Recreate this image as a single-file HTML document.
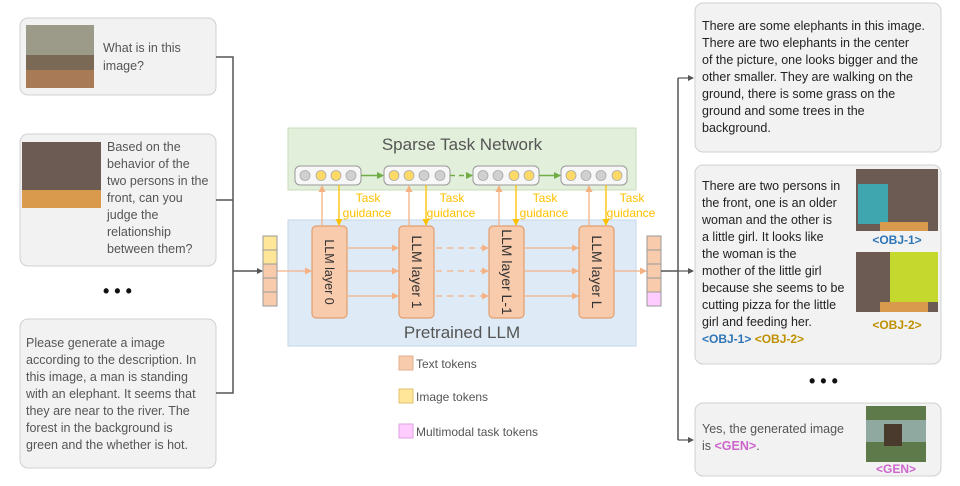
<!DOCTYPE html>
<html><head><meta charset="utf-8"><style>
html,body{margin:0;padding:0;background:#fff;width:960px;height:486px;overflow:hidden}
svg{display:block;font-family:"Liberation Sans",sans-serif}
</style></head><body>
<svg width="960" height="486" viewBox="0 0 960 486" xmlns="http://www.w3.org/2000/svg">
<defs>
<marker id="ag" markerWidth="6" markerHeight="6" refX="5" refY="3" orient="auto" markerUnits="userSpaceOnUse"><path d="M0,0 L6,3 L0,6z" fill="#555"/></marker>
<marker id="ao" markerWidth="7" markerHeight="7" refX="6" refY="3.5" orient="auto" markerUnits="userSpaceOnUse"><path d="M0,0 L7,3.5 L0,7z" fill="#f4b183"/></marker>
<marker id="ay" markerWidth="7" markerHeight="7" refX="6" refY="3.5" orient="auto" markerUnits="userSpaceOnUse"><path d="M0,0 L7,3.5 L0,7z" fill="#ffc000"/></marker>
<marker id="agr" markerWidth="7" markerHeight="7" refX="6" refY="3.5" orient="auto" markerUnits="userSpaceOnUse"><path d="M0,0 L7,3.5 L0,7z" fill="#70ad47"/></marker>
</defs>

<rect x="20" y="18" width="196" height="77" rx="8" fill="#f2f2f2" stroke="#d0d0d0"/>
<rect x="26" y="25" width="68" height="63" fill="#7a6a55"/>
<rect x="26" y="25" width="68" height="30" fill="#9c9a88"/>
<rect x="26" y="70" width="68" height="18" fill="#a87a55"/>
<text x="103" y="52" font-size="12.5" fill="#555">What is in this</text>
<text x="103" y="70" font-size="12.5" fill="#555">image?</text>

<rect x="20" y="134" width="196" height="132" rx="8" fill="#f2f2f2" stroke="#d0d0d0"/>
<rect x="22" y="142" width="79" height="66" fill="#6b5b52"/>
<rect x="22" y="190" width="79" height="18" fill="#d99a4e"/>
<g font-size="12.5" fill="#555">
<text x="107" y="151">Based on the</text>
<text x="107" y="168">behavior of the</text>
<text x="107" y="185">two persons in the</text>
<text x="107" y="202">front, can you</text>
<text x="107" y="219">judge the</text>
<text x="107" y="236">relationship</text>
<text x="107" y="253">between them?</text>
</g>
<text x="103" y="297" font-size="18" font-weight="bold" fill="#111">• • •</text>

<rect x="20" y="319" width="196" height="149" rx="8" fill="#f2f2f2" stroke="#d0d0d0"/>
<g font-size="12.5" fill="#555">
<text x="26" y="347">Please generate a image</text>
<text x="26" y="364">according to the description. In</text>
<text x="26" y="381">this image, a man is standing</text>
<text x="26" y="398">with an elephant. It seems that</text>
<text x="26" y="415">they are near to the river. The</text>
<text x="26" y="432">forest in the background is</text>
<text x="26" y="449">green and the whether is hot.</text>
</g>

<path d="M216,57 H233 V393 H216 M216,200 H233 M233,271 H262" fill="none" stroke="#555" stroke-width="1.5" marker-end="url(#ag)"/>

<rect x="288" y="128" width="348" height="62" fill="#e2efda" stroke="#c9dcbc"/>
<text x="462" y="150" font-size="17" fill="#555" text-anchor="middle">Sparse Task Network</text>
<rect x="288" y="220" width="348" height="126" fill="#deebf7" stroke="#c5d6e8"/>
<text x="462" y="338" font-size="17" fill="#555" text-anchor="middle">Pretrained LLM</text>

<g stroke="#999" stroke-width="1">
<rect x="295" y="166" width="66" height="19" rx="5" fill="#f7f7f7"/>
<rect x="384" y="166" width="66" height="19" rx="5" fill="#f7f7f7"/>
<rect x="473" y="166" width="66" height="19" rx="5" fill="#f7f7f7"/>
<rect x="561" y="166" width="66" height="19" rx="5" fill="#f7f7f7"/>
</g>
<g stroke="#aaa" stroke-width="0.8">
<circle cx="305" cy="175.5" r="5" fill="#d0d0d0"/><circle cx="321" cy="175.5" r="5" fill="#ffd966"/><circle cx="336" cy="175.5" r="5" fill="#ffd966"/><circle cx="351" cy="175.5" r="5" fill="#d0d0d0"/>
<circle cx="394" cy="175.5" r="5" fill="#ffd966"/><circle cx="409" cy="175.5" r="5" fill="#ffd966"/><circle cx="424" cy="175.5" r="5" fill="#d0d0d0"/><circle cx="440" cy="175.5" r="5" fill="#d0d0d0"/>
<circle cx="483" cy="175.5" r="5" fill="#d0d0d0"/><circle cx="498" cy="175.5" r="5" fill="#d0d0d0"/><circle cx="514" cy="175.5" r="5" fill="#ffd966"/><circle cx="529" cy="175.5" r="5" fill="#ffd966"/>
<circle cx="571" cy="175.5" r="5" fill="#ffd966"/><circle cx="586" cy="175.5" r="5" fill="#d0d0d0"/><circle cx="601" cy="175.5" r="5" fill="#d0d0d0"/><circle cx="617" cy="175.5" r="5" fill="#ffd966"/>
</g>
<g stroke="#70ad47" stroke-width="1.5">
<line x1="361" y1="175.5" x2="383" y2="175.5" marker-end="url(#agr)"/>
<line x1="450" y1="175.5" x2="472" y2="175.5" stroke-dasharray="5,4" marker-end="url(#agr)"/>
<line x1="539" y1="175.5" x2="560" y2="175.5" marker-end="url(#agr)"/>
</g>

<g fill="#f8cbad" stroke="#e0925a" stroke-width="1">
<rect x="312" y="226" width="35" height="92" rx="4"/>
<rect x="399" y="226" width="35" height="92" rx="4"/>
<rect x="489" y="226" width="35" height="92" rx="4"/>
<rect x="579" y="226" width="35" height="92" rx="4"/>
</g>
<g font-size="12.5" fill="#333">
<text transform="translate(325,272) rotate(90)" text-anchor="middle">LLM layer 0</text>
<text transform="translate(412,272) rotate(90)" text-anchor="middle" font-size="14">LLM layer 1</text>
<text transform="translate(502,272) rotate(90)" text-anchor="middle" font-size="14">LLM layer L-1</text>
<text transform="translate(592,272) rotate(90)" text-anchor="middle" font-size="14">LLM layer L</text>
</g>
<g stroke="#f4b183" stroke-width="1.3">
<line x1="322" y1="226" x2="322" y2="186" marker-end="url(#ao)"/>
<line x1="409" y1="226" x2="409" y2="186" marker-end="url(#ao)"/>
<line x1="499" y1="226" x2="499" y2="186" marker-end="url(#ao)"/>
<line x1="589" y1="226" x2="589" y2="186" marker-end="url(#ao)"/>
</g>
<g stroke="#ffc000" stroke-width="1.3">
<line x1="339" y1="185" x2="339" y2="225" marker-end="url(#ay)"/>
<line x1="426" y1="185" x2="426" y2="225" marker-end="url(#ay)"/>
<line x1="516" y1="185" x2="516" y2="225" marker-end="url(#ay)"/>
<line x1="606" y1="185" x2="606" y2="225" marker-end="url(#ay)"/>
</g>
<g font-size="12" fill="#ffc000" text-anchor="middle">
<text x="368" y="202">Task</text><text x="367" y="217">guidance</text>
<text x="452" y="202">Task</text><text x="451" y="217">guidance</text>
<text x="545" y="202">Task</text><text x="544" y="217">guidance</text>
<text x="632" y="202">Task</text><text x="631" y="217">guidance</text>
</g>
<g stroke="#f4b183" stroke-width="1.3">
<line x1="277" y1="271" x2="311" y2="271" marker-end="url(#ao)"/>
<line x1="347" y1="248" x2="398" y2="248" marker-end="url(#ao)"/>
<line x1="347" y1="271" x2="398" y2="271" marker-end="url(#ao)"/>
<line x1="347" y1="296" x2="398" y2="296" marker-end="url(#ao)"/>
<g stroke-dasharray="6,5">
<line x1="436" y1="248" x2="488" y2="248" marker-end="url(#ao)"/>
<line x1="436" y1="271" x2="488" y2="271" marker-end="url(#ao)"/>
<line x1="436" y1="296" x2="488" y2="296" marker-end="url(#ao)"/>
</g>
<line x1="524" y1="248" x2="578" y2="248" marker-end="url(#ao)"/>
<line x1="524" y1="271" x2="578" y2="271" marker-end="url(#ao)"/>
<line x1="524" y1="296" x2="578" y2="296" marker-end="url(#ao)"/>
<line x1="614" y1="271" x2="646" y2="271" marker-end="url(#ao)"/>
</g>

<g stroke="#999" stroke-width="1">
<rect x="263" y="236" width="14" height="14" fill="#ffe699"/>
<rect x="263" y="250" width="14" height="14" fill="#ffe699"/>
<rect x="263" y="264" width="14" height="14" fill="#f8cbad"/>
<rect x="263" y="278" width="14" height="14" fill="#f8cbad"/>
<rect x="263" y="292" width="14" height="14" fill="#f8cbad"/>
<rect x="647" y="236" width="14" height="14" fill="#f8cbad"/>
<rect x="647" y="250" width="14" height="14" fill="#f8cbad"/>
<rect x="647" y="264" width="14" height="14" fill="#f8cbad"/>
<rect x="647" y="278" width="14" height="14" fill="#f8cbad"/>
<rect x="647" y="292" width="14" height="14" fill="#ffccff"/>
</g>

<rect x="399" y="356" width="14" height="14" fill="#f8cbad" stroke="#e0b090"/>
<text x="416" y="368" font-size="12" fill="#555">Text tokens</text>
<rect x="399" y="389" width="14" height="14" fill="#ffe699" stroke="#e0c070"/>
<text x="416" y="401" font-size="12" fill="#555">Image tokens</text>
<rect x="399" y="424" width="14" height="14" fill="#ffccff" stroke="#e0a0e0"/>
<text x="416" y="436" font-size="12" fill="#555">Multimodal task tokens</text>

<path d="M661,271 H678 M678,78 V440" fill="none" stroke="#555" stroke-width="1.5"/>
<line x1="678" y1="78" x2="693" y2="78" stroke="#555" stroke-width="1.2" marker-end="url(#ag)"/>
<line x1="678" y1="271" x2="693" y2="271" stroke="#555" stroke-width="1.2" marker-end="url(#ag)"/>
<line x1="678" y1="440" x2="693" y2="440" stroke="#555" stroke-width="1.2" marker-end="url(#ag)"/>

<rect x="695" y="3" width="246" height="149" rx="8" fill="#f2f2f2" stroke="#d0d0d0"/>
<g font-size="12.5" fill="#222">
<text x="702" y="30">There are some elephants in this image.</text>
<text x="702" y="47">There are two elephants in the center</text>
<text x="702" y="64">of the picture, one looks bigger and the</text>
<text x="702" y="81">other smaller. They are walking on the</text>
<text x="702" y="98">ground, there is some grass on the</text>
<text x="702" y="115">ground and some trees in the</text>
<text x="702" y="132">background.</text>
</g>

<rect x="695" y="165" width="246" height="199" rx="8" fill="#f2f2f2" stroke="#d0d0d0"/>
<g font-size="12.5" fill="#222">
<text x="702" y="190">There are two persons in</text>
<text x="702" y="207">the front, one is an older</text>
<text x="702" y="224">woman and the other is</text>
<text x="702" y="241">a little girl. It looks like</text>
<text x="702" y="258">the woman is the</text>
<text x="702" y="275">mother of the little girl</text>
<text x="702" y="292">because she seems to be</text>
<text x="702" y="309">cutting pizza for the little</text>
<text x="702" y="326">girl and feeding her.</text>
</g>
<text x="702" y="343" font-size="12" font-weight="bold" fill="#2e75b6">&lt;OBJ-1&gt; <tspan fill="#bf9000">&lt;OBJ-2&gt;</tspan></text>
<rect x="856" y="169" width="82" height="62" fill="#6b5b52"/>
<rect x="858" y="184" width="30" height="40" fill="#3fa6b0"/>
<rect x="880" y="222" width="48" height="9" fill="#d99a4e"/>
<text x="897" y="244" font-size="12" font-weight="bold" fill="#2e75b6" text-anchor="middle">&lt;OBJ-1&gt;</text>
<rect x="856" y="252" width="82" height="60" fill="#6b5b52"/>
<rect x="890" y="252" width="48" height="50" fill="#c4d82e"/>
<rect x="880" y="302" width="48" height="10" fill="#d99a4e"/>
<text x="897" y="329" font-size="12" font-weight="bold" fill="#bf9000" text-anchor="middle">&lt;OBJ-2&gt;</text>

<text x="809" y="387" font-size="18" font-weight="bold" fill="#111">• • •</text>

<rect x="695" y="403" width="246" height="73" rx="8" fill="#f2f2f2" stroke="#d0d0d0"/>
<text x="702" y="433" font-size="12.5" fill="#555">Yes, the generated image</text>
<text x="702" y="450" font-size="12.5" fill="#555">is <tspan fill="#cc66cc" font-weight="bold">&lt;GEN&gt;</tspan>.</text>
<rect x="866" y="406" width="60" height="56" fill="#5f7a4a"/>
<rect x="866" y="420" width="60" height="22" fill="#8fa8a0"/>
<rect x="884" y="424" width="18" height="22" fill="#4a3a2e"/>
<text x="896" y="473" font-size="12" font-weight="bold" fill="#cc66cc" text-anchor="middle">&lt;GEN&gt;</text>
</svg>
</body></html>
